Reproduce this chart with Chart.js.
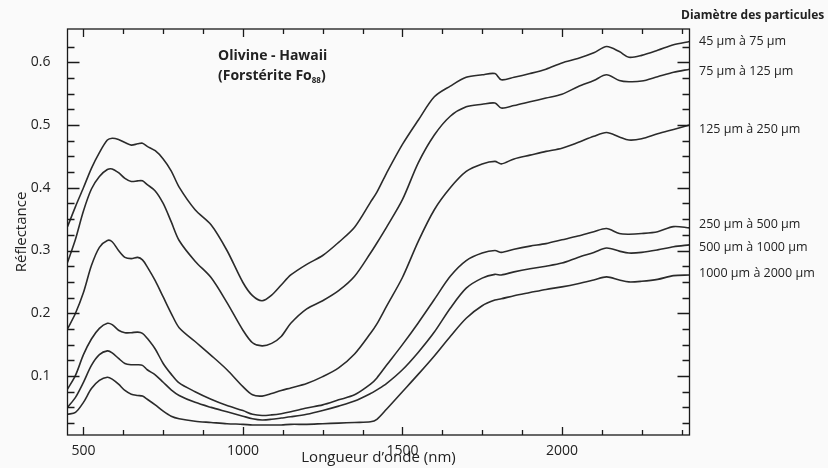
<!DOCTYPE html>
<html>
<head>
<meta charset="utf-8">
<script src="https://cdn.jsdelivr.net/npm/chart.js@4.4.1/dist/chart.umd.min.js"></script>
<style>
  html, body { margin: 0; padding: 0; background: #fafafa; }
  canvas { display: block; }
</style>
</head>
<body>
<canvas id="spectraChart" width="828" height="468"></canvas>
<script>
// wavelengths (nm) shared by all spectra
const wavelength = [450, 475, 500, 525, 550, 575, 590, 610, 630, 650, 670, 685, 700, 725, 750, 775, 800, 850, 900, 950,
    1000, 1030, 1060, 1090, 1120, 1150, 1200, 1250, 1300, 1350, 1400, 1420, 1450, 1500, 1550, 1600, 1650, 1700, 1750, 1790,
    1810, 1850, 1900, 1950, 2000, 2050, 2100, 2140, 2180, 2210, 2250, 2300, 2350, 2400];

// reflectance per grain size
const r45to75 = [0.338, 0.370, 0.400, 0.431, 0.456, 0.476, 0.479, 0.477, 0.472, 0.468, 0.470, 0.471, 0.466, 0.459, 0.446, 0.427, 0.401, 0.365, 0.341, 0.300,
    0.249, 0.228, 0.220, 0.229, 0.245, 0.261, 0.278, 0.292, 0.313, 0.337, 0.377, 0.393, 0.423, 0.469, 0.508, 0.545, 0.562, 0.576, 0.580, 0.582,
    0.572, 0.576, 0.582, 0.589, 0.599, 0.606, 0.615, 0.625, 0.617, 0.608, 0.611, 0.619, 0.628, 0.633];
const r75to125 = [0.281, 0.318, 0.363, 0.398, 0.418, 0.429, 0.430, 0.424, 0.415, 0.410, 0.411, 0.411, 0.405, 0.395, 0.375, 0.346, 0.316, 0.283, 0.257, 0.217,
    0.173, 0.153, 0.148, 0.152, 0.163, 0.184, 0.207, 0.220, 0.236, 0.259, 0.296, 0.312, 0.337, 0.381, 0.440, 0.484, 0.514, 0.529, 0.533, 0.535,
    0.527, 0.531, 0.537, 0.543, 0.549, 0.561, 0.571, 0.580, 0.571, 0.569, 0.570, 0.577, 0.584, 0.589];
const r125to250 = [0.175, 0.200, 0.233, 0.276, 0.305, 0.316, 0.314, 0.300, 0.289, 0.287, 0.289, 0.285, 0.274, 0.252, 0.226, 0.200, 0.177, 0.155, 0.133, 0.110,
    0.083, 0.070, 0.068, 0.072, 0.077, 0.081, 0.088, 0.099, 0.113, 0.135, 0.168, 0.183, 0.211, 0.257, 0.315, 0.365, 0.400, 0.426, 0.438, 0.442,
    0.438, 0.446, 0.452, 0.458, 0.463, 0.472, 0.482, 0.488, 0.481, 0.476, 0.478, 0.486, 0.493, 0.500];
const r250to500 = [0.079, 0.101, 0.134, 0.159, 0.176, 0.184, 0.182, 0.173, 0.169, 0.169, 0.170, 0.168, 0.160, 0.143, 0.120, 0.103, 0.089, 0.075, 0.063, 0.053,
    0.045, 0.039, 0.037, 0.038, 0.040, 0.043, 0.049, 0.054, 0.062, 0.070, 0.087, 0.097, 0.117, 0.150, 0.185, 0.222, 0.259, 0.284, 0.296, 0.300,
    0.297, 0.302, 0.307, 0.311, 0.317, 0.323, 0.330, 0.335, 0.327, 0.326, 0.327, 0.330, 0.338, 0.336];
const r500to1000 = [0.050, 0.066, 0.090, 0.117, 0.134, 0.140, 0.137, 0.128, 0.120, 0.118, 0.118, 0.117, 0.110, 0.102, 0.090, 0.078, 0.069, 0.058, 0.050, 0.043,
    0.036, 0.032, 0.030, 0.031, 0.033, 0.035, 0.039, 0.045, 0.052, 0.060, 0.072, 0.078, 0.088, 0.110, 0.138, 0.170, 0.208, 0.240, 0.256, 0.262,
    0.261, 0.266, 0.271, 0.275, 0.280, 0.289, 0.297, 0.304, 0.299, 0.296, 0.297, 0.301, 0.306, 0.309];
const r1000to2000 = [0.039, 0.042, 0.058, 0.080, 0.093, 0.098, 0.095, 0.087, 0.077, 0.071, 0.069, 0.068, 0.063, 0.054, 0.044, 0.036, 0.032, 0.028, 0.026, 0.024,
    0.023, 0.022, 0.022, 0.022, 0.022, 0.023, 0.023, 0.024, 0.025, 0.026, 0.027, 0.031, 0.047, 0.075, 0.103, 0.132, 0.163, 0.192, 0.212, 0.221,
    0.223, 0.228, 0.233, 0.238, 0.242, 0.247, 0.253, 0.258, 0.253, 0.250, 0.251, 0.254, 0.260, 0.261];

const sizeLabels = ['45 µm à 75 µm', '75 µm à 125 µm', '125 µm à 250 µm', '250 µm à 500 µm', '500 µm à 1000 µm', '1000 µm à 2000 µm'];
const xTickValues = [500, 1000, 1500, 2000];
const yTickValues = [0.1, 0.2, 0.3, 0.4, 0.5, 0.6];

const series = [r45to75, r75to125, r125to250, r250to500, r500to1000, r1000to2000];
const fontFamily = '"Open Sans", "DejaVu Sans", sans-serif';
const ink = '#222222';

// small vertical nudges (px) of the right-hand labels relative to each curve's end
const labelNudge = [0, 2, 4, -3, 3, -2];

const frameAndLabels = {
    id: 'frameAndLabels',
    afterDatasetsDraw(chart) {
        const { ctx, chartArea: a, scales: { x, y } } = chart;
        ctx.save();
        ctx.strokeStyle = '#1a1a1a';
        ctx.lineWidth = 1.3;
        ctx.strokeRect(a.left, a.top, a.right - a.left, a.bottom - a.top);
        ctx.beginPath();
        // inward ticks on all four sides
        for (let v = 500; v <= 2400; v += 125) {
            const px = Math.round(x.getPixelForValue(v)) + 0.5;
            const len = v % 500 === 0 ? 8 : 5;
            ctx.moveTo(px, a.bottom); ctx.lineTo(px, a.bottom - len);
            ctx.moveTo(px, a.top); ctx.lineTo(px, a.top + len);
        }
        for (let i = 1; i <= 25; i++) {
            const py = Math.round(y.getPixelForValue(i * 0.025)) + 0.5;
            const len = i % 4 === 0 ? 12 : 7;
            ctx.moveTo(a.left, py); ctx.lineTo(a.left + len, py);
            ctx.moveTo(a.right, py); ctx.lineTo(a.right - len, py);
        }
        ctx.stroke();

        // sample name
        ctx.fillStyle = ink;
        ctx.textBaseline = 'alphabetic';
        ctx.textAlign = 'left';
        ctx.font = 'bold 14px ' + fontFamily;
        ctx.fillText('Olivine - Hawaii', 218, 60);
        const line2 = '(Forstérite Fo';
        ctx.fillText(line2, 218, 80);
        let tx = 218 + ctx.measureText(line2).width;
        ctx.font = 'bold 8px ' + fontFamily;
        ctx.fillText('88', tx, 83);
        tx += ctx.measureText('88').width;
        ctx.font = 'bold 14px ' + fontFamily;
        ctx.fillText(')', tx, 80);

        // grain size legend
        ctx.font = 'bold 12px ' + fontFamily;
        ctx.fillText('Diamètre des particules', 681, 19);
        ctx.font = '12.5px ' + fontFamily;
        ctx.textBaseline = 'middle';
        series.forEach((s, i) => {
            const py = y.getPixelForValue(s[s.length - 1]) + labelNudge[i];
            ctx.fillText(sizeLabels[i], 699, py);
        });
        ctx.restore();
    }
};

new Chart(document.getElementById('spectraChart'), {
    type: 'line',
    data: {
        datasets: series.map((s, i) => ({
            label: sizeLabels[i],
            data: wavelength.map((w, j) => ({ x: w, y: s[j] })),
            borderColor: '#2b2b2b',
            borderWidth: 1.6,
            pointRadius: 0,
            fill: false,
            tension: 0.3
        }))
    },
    options: {
        responsive: false,
        animation: false,
        events: [],
        layout: { padding: { top: 29, right: 138.5, bottom: 0, left: 0 } },
        plugins: {
            legend: { display: false },
            tooltip: { enabled: false }
        },
        scales: {
            x: {
                type: 'linear',
                min: 450,
                max: 2400,
                afterBuildTicks: s => { s.ticks = xTickValues.map(v => ({ value: v })); },
                afterFit: s => { s.height = 33; },
                grid: { display: false },
                border: { display: false },
                ticks: {
                    color: ink,
                    font: { family: fontFamily, size: 14 },
                    padding: 0,
                    maxRotation: 0,
                    autoSkip: false,
                    callback: v => String(v)
                },
                title: {
                    display: true,
                    text: 'Longueur d’onde (nm)',
                    color: ink,
                    font: { family: fontFamily, size: 15 },
                    padding: { top: 0, bottom: 1 }
                }
            },
            y: {
                min: 0.006,
                max: 0.653,
                afterBuildTicks: s => { s.ticks = yTickValues.map(v => ({ value: v })); },
                afterFit: s => { s.width = 67.5; },
                grid: { display: false },
                border: { display: false },
                ticks: {
                    color: ink,
                    font: { family: fontFamily, size: 14 },
                    padding: 9,
                    callback: v => v.toFixed(1)
                },
                title: {
                    display: true,
                    text: 'Réflectance',
                    color: ink,
                    font: { family: fontFamily, size: 15 },
                    padding: { top: 13, bottom: 0 }
                }
            }
        }
    },
    plugins: [frameAndLabels]
});
</script>
</body>
</html>
